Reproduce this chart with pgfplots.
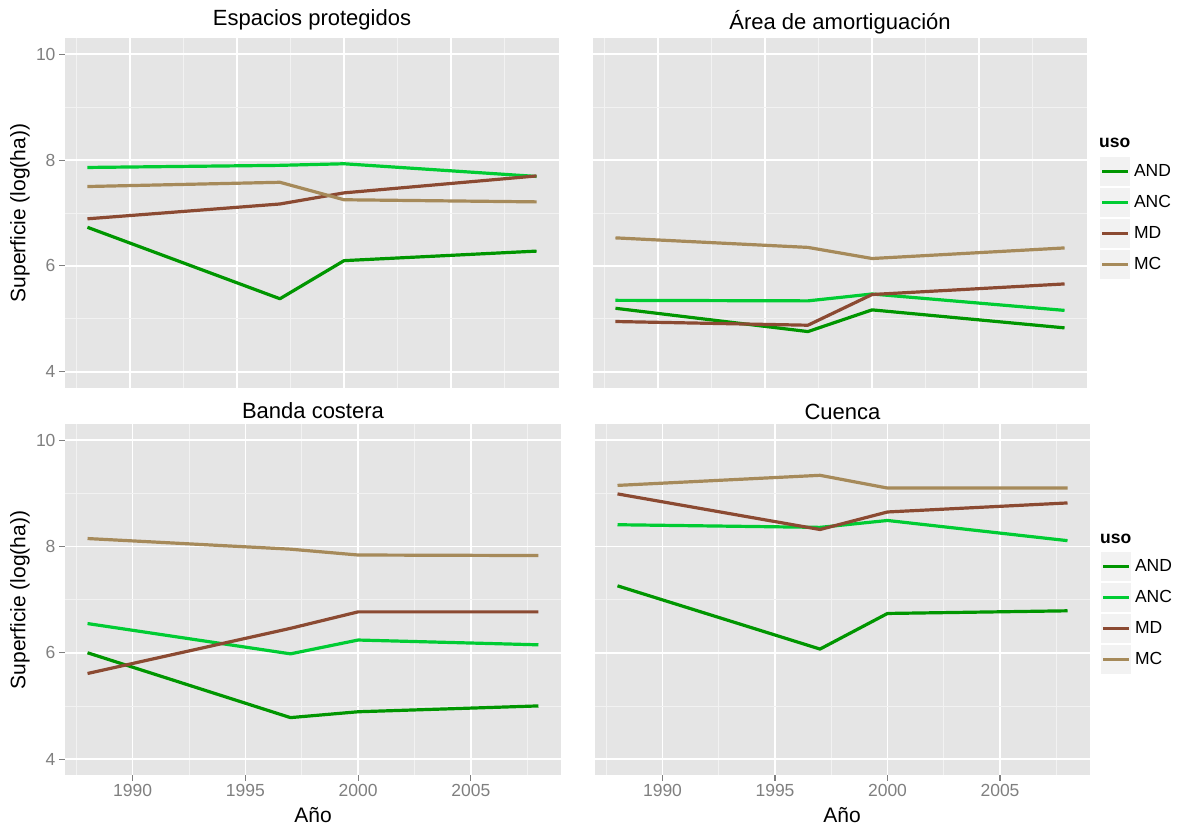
\documentclass[border=0pt]{standalone}
\usepackage{pgfplots}
\pgfplotsset{compat=1.18}
\usepackage{fontspec}
\setmainfont{Liberation Sans}
\definecolor{panelbg}{RGB}{229,229,229}
\definecolor{minorgrid}{RGB}{242,242,242}
\definecolor{tickgrey}{RGB}{127,127,127}
\definecolor{keybg}{RGB}{242,242,242}
\definecolor{cAND}{RGB}{0,150,0}
\definecolor{cANC}{RGB}{0,204,51}
\definecolor{cMD}{RGB}{139,74,50}
\definecolor{cMC}{RGB}{166,138,90}

\pgfplotsset{
  gg/.style={
    scale only axis,
    axis background/.style={fill=panelbg},
    axis line style={draw=none},
    tick align=outside,
    major tick length=6pt,
    minor tick length=0pt,
    tick style={color=tickgrey, line width=1.1pt},
    xmajorgrids, ymajorgrids, xminorgrids, yminorgrids,
    major grid style={white, line width=1.5pt},
    minor grid style={minorgrid, line width=0.8pt},
    ymin=3.7, ymax=10.3,
    ytick={4,6,8,10}, minor ytick={5,7,9},
    xtick={1990,1995,2000,2005},
    minor xtick={1987.5,1992.5,1997.5,2002.5,2007.5},
    xtick pos=left, ytick pos=left,
    ticklabel style={font=\fontsize{17.5}{20}\selectfont, text=tickgrey},
    /pgf/number format/assume math mode=true,
    /pgf/number format/1000 sep={},
    every axis plot/.append style={line width=3.2pt, line join=round, no markers},
    legend image code/.code={
      \fill[keybg, draw=none] (0pt,-14.2pt) rectangle (29.5pt,14.2pt);
      \draw[#1, line width=3.2pt] (2pt,0pt) -- (27.5pt,0pt);
    },
    legend cell align=left,
  },
  ggleg/.style={
    legend style={draw=none, fill=none, inner sep=0pt, outer sep=0pt,
      row sep=2.6pt, column sep=4.5pt, anchor=north west,
      font=\fontsize{17.5}{20}\selectfont,
      nodes={inner sep=0pt, outer sep=0pt}},
  },
}

\pgfplotstableread{
year AND ANC MD MC
1988 6.73 7.86 6.89 7.50
1997 5.38 7.90 7.17 7.58
2000 6.10 7.93 7.38 7.25
2009 6.28 7.69 7.70 7.21
}\espacios
\pgfplotstableread{
year AND ANC MD MC
1988 5.20 5.35 4.95 6.53
1997 4.76 5.34 4.88 6.35
2000 5.17 5.47 5.46 6.14
2009 4.83 5.16 5.66 6.34
}\amort
\pgfplotstableread{
year AND ANC MD MC
1988 6.00 6.55 5.61 8.15
1997 4.78 5.98 6.46 7.95
2000 4.89 6.24 6.77 7.84
2008 5.00 6.15 6.77 7.83
}\banda
\pgfplotstableread{
year AND ANC MD MC
1988 7.26 8.41 8.99 9.15
1997 6.07 8.36 8.32 9.34
2000 6.74 8.49 8.65 9.10
2008 6.79 8.11 8.82 9.10
}\cuenca

\begin{document}
\begin{tikzpicture}[x=1pt,y=1pt]
\path[use as bounding box] (0,0) rectangle (1180,829);

% top-left
\begin{axis}[gg, at={(65pt,441.3pt)}, anchor=south west,
  width=494pt, height=349.4pt, xmin=1986.95, xmax=2010.05,
  xticklabels={}, xtick style={draw=none}]
  \addplot[cAND] table[x=year,y=AND]{\espacios};
  \addplot[cANC] table[x=year,y=ANC]{\espacios};
  \addplot[cMD] table[x=year,y=MD]{\espacios};
  \addplot[cMC] table[x=year,y=MC]{\espacios};
\end{axis}

% top-right
\begin{axis}[gg, ggleg, at={(593pt,441.3pt)}, anchor=south west,
  width=494pt, height=349.4pt, xmin=1986.95, xmax=2010.05,
  xticklabels={}, xtick style={draw=none},
  yticklabels={}, ytick style={draw=none},
  legend style={at={(1.0263,0.6594)}}]
  \addplot[cAND] table[x=year,y=AND]{\amort};
  \addplot[cANC] table[x=year,y=ANC]{\amort};
  \addplot[cMD] table[x=year,y=MD]{\amort};
  \addplot[cMC] table[x=year,y=MC]{\amort};
  \legend{AND,ANC,MD,MC}
\end{axis}

% bottom-left
\begin{axis}[gg, at={(65pt,54pt)}, anchor=south west,
  width=496pt, height=350.7pt, xmin=1987, xmax=2009]
  \addplot[cAND] table[x=year,y=AND]{\banda};
  \addplot[cANC] table[x=year,y=ANC]{\banda};
  \addplot[cMD] table[x=year,y=MD]{\banda};
  \addplot[cMC] table[x=year,y=MC]{\banda};
\end{axis}

% bottom-right
\begin{axis}[gg, ggleg, at={(595pt,54pt)}, anchor=south west,
  width=495pt, height=350.7pt, xmin=1987, xmax=2009,
  yticklabels={}, ytick style={draw=none},
  legend style={at={(1.0222,0.635)}}]
  \addplot[cAND] table[x=year,y=AND]{\cuenca};
  \addplot[cANC] table[x=year,y=ANC]{\cuenca};
  \addplot[cMD] table[x=year,y=MD]{\cuenca};
  \addplot[cMC] table[x=year,y=MC]{\cuenca};
  \legend{AND,ANC,MD,MC}
\end{axis}

% titles
\begin{scope}[every node/.style={font=\fontsize{22}{25}\selectfont, anchor=base}]
\node at (312,803) {Espacios protegidos};
\node at (840,799.5) {Área de amortiguación};
\node at (313,410) {Banda costera};
\node at (842.5,409) {Cuenca};
\end{scope}

% axis titles
\begin{scope}[every node/.style={font=\fontsize{21}{24}\selectfont}]
\node[rotate=90] at (20,616) {Superficie (log(ha))};
\node[rotate=90] at (20,229) {Superficie (log(ha))};
\node[anchor=base] at (313,6) {Año};
\node[anchor=base] at (842,6) {Año};
\end{scope}

% legend titles
\node[anchor=west, inner sep=0pt, font=\fontsize{17.5}{20}\selectfont\bfseries] at (1099,685.7) {uso};
\node[anchor=west, inner sep=0pt, font=\fontsize{17.5}{20}\selectfont\bfseries] at (1100,290) {uso};
\end{tikzpicture}
\end{document}
